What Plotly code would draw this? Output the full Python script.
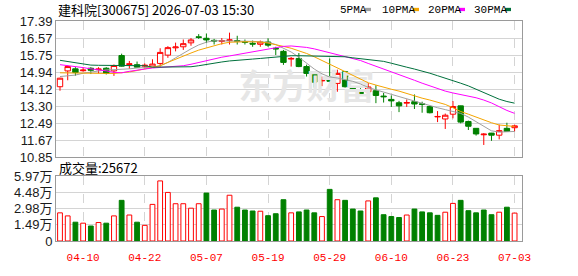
import plotly.graph_objects as go

# ---------------- data ----------------
dates = ["04-07", "04-08", "04-09", "04-10", "04-13", "04-14", "04-15", "04-16", "04-17", "04-20",
         "04-21", "04-22", "04-23", "04-24", "04-27", "04-28", "04-29", "04-30", "05-06", "05-07",
         "05-08", "05-11", "05-12", "05-13", "05-14", "05-15", "05-18", "05-19", "05-20", "05-21",
         "05-22", "05-25", "05-26", "05-27", "05-28", "05-29", "06-01", "06-02", "06-03", "06-04",
         "06-05", "06-08", "06-09", "06-10", "06-11", "06-12", "06-15", "06-16", "06-17", "06-18",
         "06-22", "06-23", "06-24", "06-25", "06-26", "06-29", "06-30", "07-01", "07-02", "07-03"]

open_ = [14.23, 14.99, 15.09, 15.00, 15.12, 15.05, 15.12, 14.99, 15.73, 15.30,
         15.29, 15.22, 15.17, 15.35, 15.75, 16.10, 16.15, 16.34, 16.63, 16.56,
         16.46, 16.41, 16.45, 16.45, 16.40, 16.32, 16.27, 16.38, 16.08, 15.93,
         15.56, 15.59, 15.20, 14.84, 14.51, 14.72, 14.39, 14.95, 14.22, 14.07,
         13.99, 14.04, 13.78, 13.62, 13.46, 13.44, 13.51, 13.41, 13.28, 12.78,
         12.68, 12.91, 13.31, 12.56, 12.23, 11.92, 12.00, 11.90, 12.23, 12.26]
high = [14.66, 15.25, 15.17, 15.17, 15.17, 15.17, 15.17, 15.30, 15.82, 15.47,
        15.44, 15.35, 15.55, 16.08, 16.18, 16.35, 16.50, 16.57, 16.76, 16.79,
        16.53, 16.57, 16.83, 16.68, 16.50, 16.45, 16.45, 16.56, 16.15, 16.00,
        15.66, 15.85, 15.29, 14.84, 14.72, 15.59, 15.05, 14.99, 14.24, 14.16,
        14.41, 14.30, 13.93, 13.81, 13.55, 13.62, 13.86, 13.51, 13.31, 13.06,
        12.94, 13.54, 13.32, 12.60, 12.24, 12.00, 12.01, 12.41, 12.50, 12.41]
low = [14.04, 14.54, 14.76, 14.95, 14.84, 14.87, 14.82, 14.75, 15.20, 15.09,
       15.15, 15.10, 15.15, 15.20, 15.62, 15.93, 16.00, 16.20, 16.53, 16.33,
       16.26, 16.26, 16.26, 16.26, 16.26, 16.15, 16.15, 16.15, 15.75, 15.28,
       15.20, 15.17, 14.72, 14.19, 14.26, 14.47, 13.99, 14.19, 13.99, 13.81,
       13.62, 13.44, 13.47, 13.26, 13.01, 13.26, 13.16, 12.98, 12.95, 12.53,
       12.20, 12.71, 12.47, 12.15, 11.88, 11.43, 11.63, 11.70, 12.07, 12.08]
close = [14.64, 15.20, 14.91, 15.03, 15.02, 15.08, 14.87, 15.25, 15.22, 15.33,
         15.17, 15.26, 15.32, 15.88, 16.11, 16.14, 16.30, 16.48, 16.60, 16.48,
         16.43, 16.45, 16.48, 16.41, 16.37, 16.28, 16.38, 16.23, 16.05, 15.40,
         15.59, 15.20, 14.87, 14.45, 14.54, 14.49, 14.87, 14.23, 14.14, 13.89,
         14.22, 13.81, 13.75, 13.55, 13.31, 13.47, 13.40, 13.38, 12.98, 12.80,
         12.86, 13.28, 12.53, 12.33, 11.96, 11.95, 11.90, 12.12, 12.08, 12.35]

volume = [25900, 23100, 17300, 16400, 13800, 17000, 16400, 23100, 37400, 23900,
          17300, 14400, 33700, 55300, 44700, 34300, 34300, 30200, 34300, 44100,
          28500, 29400, 42100, 31100, 28500, 27600, 27400, 23300, 25100, 38000,
          25900, 26800, 28500, 25900, 22500, 47500, 38000, 37400, 29400, 27600,
          36900, 39700, 24200, 22500, 21600, 23900, 29400, 26800, 25900, 23600,
          26500, 34600, 37400, 27900, 25900, 28500, 24200, 26500, 31100, 25672]

ma5 = [14.72, 14.74, 14.79, 14.88, 14.94, 14.99, 15.04, 15.05, 15.06, 15.09,
       15.13, 15.15, 15.17, 15.24, 15.40, 15.62, 15.85, 16.05, 16.24, 16.37,
       16.44, 16.44, 16.44, 16.43, 16.41, 16.41, 16.39, 16.37, 16.26, 16.08,
       15.90, 15.65, 15.35, 15.08, 14.85, 14.70, 14.65, 14.58, 14.49, 14.36,
       14.20, 14.08, 13.97, 13.86, 13.74, 13.63, 13.52, 13.43, 13.31, 13.22,
       13.13, 13.04, 12.95, 12.77, 12.54, 12.32, 12.11, 12.05, 12.05, 12.08]
ma10 = [14.90, 14.89, 14.88, 14.87, 14.87, 14.87, 14.87, 14.87, 14.90, 14.94,
        15.01, 15.08, 15.15, 15.24, 15.40, 15.56, 15.71, 15.85, 15.99, 16.10,
        16.21, 16.30, 16.37, 16.39, 16.39, 16.39, 16.38, 16.33, 16.26, 16.17,
        16.08, 15.96, 15.83, 15.67, 15.49, 15.31, 15.13, 14.97, 14.76, 14.58,
        14.42, 14.31, 14.20, 14.11, 14.02, 13.90, 13.79, 13.68, 13.59, 13.50,
        13.38, 13.22, 13.04, 12.91, 12.77, 12.64, 12.50, 12.39, 12.34, 12.32]
ma20 = [15.29, 15.25, 15.21, 15.15, 15.09, 15.05, 14.99, 14.92, 14.90, 14.97,
        15.04, 15.08, 15.13, 15.15, 15.17, 15.19, 15.24, 15.31, 15.40, 15.49,
        15.58, 15.65, 15.71, 15.78, 15.85, 15.92, 15.99, 16.05, 16.12, 16.17,
        16.19, 16.17, 16.12, 16.05, 15.96, 15.85, 15.75, 15.67, 15.58, 15.49,
        15.35, 15.22, 15.08, 14.94, 14.81, 14.67, 14.54, 14.40, 14.27, 14.13,
        14.02, 13.93, 13.86, 13.79, 13.70, 13.59, 13.45, 13.27, 13.09, 12.95]
ma30 = [15.50, 15.45, 15.39, 15.32, 15.27, 15.26, 15.26, 15.26, 15.26, 15.26,
        15.26, 15.24, 15.17, 15.17, 15.17, 15.17, 15.17, 15.19, 15.24, 15.31,
        15.38, 15.42, 15.47, 15.51, 15.53, 15.56, 15.59, 15.63, 15.66, 15.70,
        15.72, 15.72, 15.71, 15.70, 15.69, 15.68, 15.68, 15.67, 15.62, 15.58,
        15.55, 15.50, 15.45, 15.36, 15.25, 15.17, 15.08, 14.99, 14.88, 14.76,
        14.65, 14.54, 14.40, 14.27, 14.11, 13.95, 13.79, 13.63, 13.52, 13.44]

price_ticks = [10.85, 11.6675, 12.485, 13.3025, 14.12, 14.9375, 15.755, 16.5725, 17.39]
price_labels = ["10.85", "11.67", "12.49", "13.30", "14.12", "14.94", "15.75", "16.57", "17.39"]
vol_ticks = [0, 14925, 29850, 44775, 59700]
vol_labels = ["0", "1.49万", "2.98万", "4.48万", "5.97万"]
date_ticks = ["04-10", "04-22", "05-07", "05-19", "05-29", "06-10", "06-23", "07-03"]

ma_names = ["5PMA", "10PMA", "20PMA", "30PMA"]
title_text = "建科院[300675] 2026-07-03 15:30"
vol_title = "成交量"
watermark = "东方财富"

# ---------------- style ----------------
RED = "#ff0000"
GREEN = "#008000"
MA_COLORS = ["#a0a0a0", "#f5a500", "#ff00ff", "#00703c"]
GRID = "#d4d4d4"
BORDER = "#9a9a9a"
W, H = 578, 276
ML, MR, MT, MB = 56, 56, 21, 21
PW, PH = W - ML - MR, H - MT - MB


def px_x(px):
    return (px - ML) / PW


def px_y(py):
    return (H - MB - py) / PH


idx = list(range(len(dates)))
tickvals = [dates.index(d) for d in date_ticks]
xr = [-0.52, 59.96]

fig = go.Figure()

# watermark (behind everything)
fig.add_trace(go.Scatter(x=[32.0], y=[14.05], mode="text", text=[watermark],
                         textfont=dict(size=34, color="#e6e6e6", family="Noto Sans CJK SC", weight="bold"),
                         hoverinfo="skip", showlegend=False, xaxis="x", yaxis="y"))

fig.add_trace(go.Candlestick(
    x=idx, open=open_, high=high, low=low, close=close,
    increasing=dict(line=dict(color=RED, width=1), fillcolor="white"),
    decreasing=dict(line=dict(color=GREEN, width=1), fillcolor=GREEN),
    whiskerwidth=0, showlegend=False, hoverinfo="skip", xaxis="x", yaxis="y"))

for name, vals, col in zip(ma_names, [ma5, ma10, ma20, ma30], MA_COLORS):
    fig.add_trace(go.Scatter(x=idx, y=vals, mode="lines", name=name,
                             line=dict(color=col, width=1), showlegend=False,
                             hoverinfo="skip", xaxis="x", yaxis="y"))

up = [close[i] >= (close[i - 1] if i > 0 else open_[i]) for i in idx]
fig.add_trace(go.Bar(
    x=idx, y=volume, width=0.62,
    marker=dict(color=["white" if u else GREEN for u in up],
                line=dict(color=[RED if u else GREEN for u in up], width=1)),
    showlegend=False, hoverinfo="skip", xaxis="x2", yaxis="y2"))

price_top = 1.0
price_bot = px_y(165.7)
vol_top = px_y(186)

axis_common = dict(showline=True, mirror=True, linecolor=BORDER, linewidth=1,
                   zeroline=False, fixedrange=True)
tick_font = dict(family="Liberation Sans, Noto Sans CJK SC", size=13, color="#1a1a1a")

fig.update_layout(
    width=W, height=H, margin=dict(l=ML, r=MR, t=MT, b=MB),
    paper_bgcolor="white", plot_bgcolor="white", showlegend=False,
    boxgap=0.3, boxgroupgap=0,
    xaxis=dict(domain=[0, 1], anchor="y", range=xr, tickvals=tickvals, ticktext=date_ticks,
               showticklabels=False, showgrid=True, gridcolor=GRID, griddash="dash",
               rangeslider=dict(visible=False), ticks="", **axis_common),
    yaxis=dict(domain=[price_bot, price_top], anchor="x", range=[10.85, 17.39],
               tickvals=price_ticks, ticktext=price_labels, showgrid=True, gridcolor=GRID,
               tickfont=tick_font, ticks="", **axis_common),
    xaxis2=dict(domain=[0, 1], anchor="y2", range=xr, tickvals=tickvals, ticktext=date_ticks,
                showticklabels=True, showgrid=True, gridcolor=GRID, griddash="dash",
                tickfont=dict(family="Liberation Mono", size=11, color=RED),
                ticks="outside", ticklen=6, tickcolor="rgba(0,0,0,0)",
                **axis_common),
    yaxis2=dict(domain=[0, vol_top], anchor="x2", range=[0, vol_ticks[-1]],
                tickvals=vol_ticks, ticktext=vol_labels, showgrid=True, gridcolor=GRID,
                tickfont=tick_font, ticks="", **axis_common),
)

annotations = [
    dict(x=0, y=px_y(9), xref="paper", yref="paper", xanchor="left", yanchor="middle",
         text=title_text, showarrow=False,
         font=dict(family="Noto Sans CJK SC", size=13, color="#000000")),
    dict(x=px_x(57), y=px_y(177), xref="paper", yref="paper", xanchor="left", yanchor="middle",
         text=f"{vol_title}:{volume[-1]}", showarrow=False,
         font=dict(family="Noto Sans CJK SC", size=13, color="#000000")),
]
legend_x = [338, 380, 426, 472]
swatch_x = [365, 413, 459, 505]
shapes = []
for name, lx, sx, col in zip(ma_names, legend_x, swatch_x, MA_COLORS):
    annotations.append(dict(x=px_x(lx), y=px_y(9), xref="paper", yref="paper",
                            xanchor="left", yanchor="middle", text=name, showarrow=False,
                            font=dict(family="Liberation Mono", size=11, color="#000000")))
    shapes.append(dict(type="rect", xref="paper", yref="paper",
                       x0=px_x(sx), x1=px_x(sx + 6), y0=px_y(10.5), y1=px_y(7),
                       fillcolor=col, line=dict(width=0)))
fig.update_layout(annotations=annotations, shapes=shapes)

fig.write_html("out.html")
